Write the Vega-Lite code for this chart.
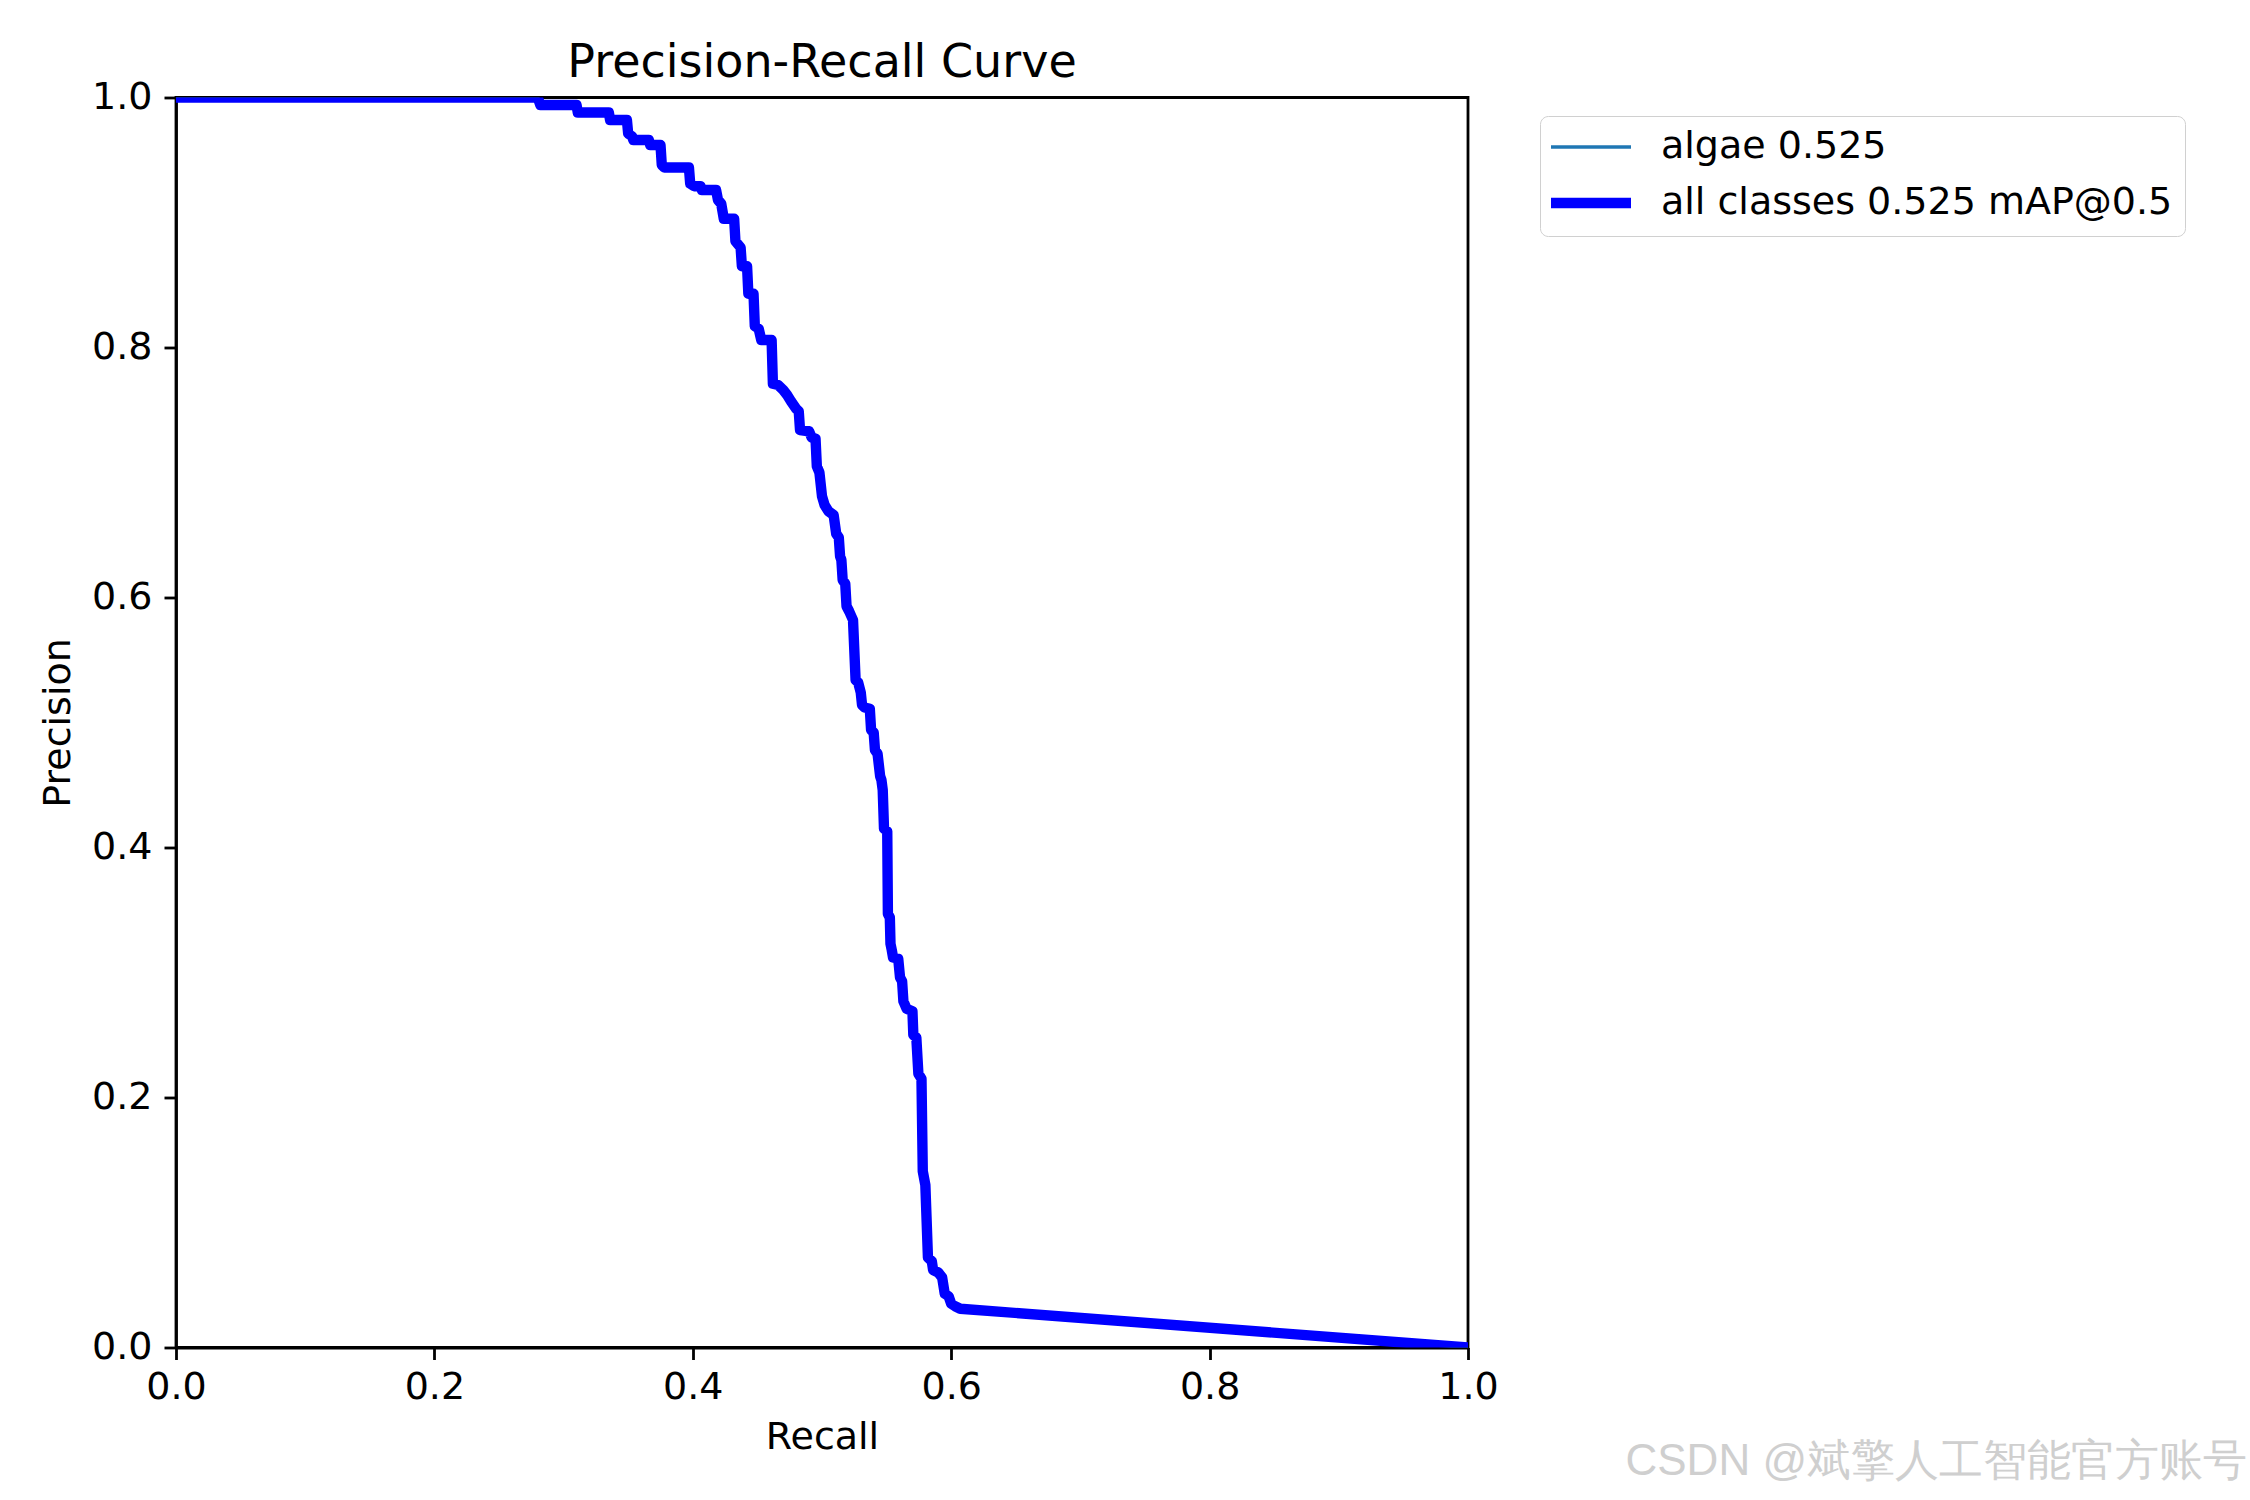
{
  "$schema": "https://vega.github.io/schema/vega-lite/v6.json",
  "description": "Precision-Recall curve, algae class and all classes.",
  "autosize": {"type": "none"},
  "width": 1292,
  "height": 1250,
  "padding": {"left": 176, "top": 97.5, "right": 782, "bottom": 152.5},
  "background": "white",
  "title": {
    "text": "Precision-Recall Curve",
    "font": "DejaVu Sans",
    "fontSize": 46,
    "fontWeight": "normal",
    "color": "black",
    "anchor": "middle",
    "baseline": "alphabetic",
    "offset": -44
  },
  "config": {
    "view": {"stroke": "black", "strokeWidth": 2.8},
    "axis": {
      "grid": false,
      "labelFlush": false,
      "domainColor": "black",
      "domainWidth": 2.8,
      "tickColor": "black",
      "tickWidth": 2.8,
      "tickSize": 12,
      "labelPadding": 12,
      "labelFont": "DejaVu Sans",
      "labelFontSize": 38,
      "labelColor": "black",
      "titleFont": "DejaVu Sans",
      "titleFontSize": 38,
      "titleFontWeight": "normal",
      "titleColor": "black"
    }
  },
  "layer": [
    {
      "data": {"name": "curve"},
      "mark": {"type": "line", "clip": true, "strokeJoin": "round", "strokeWidth": 3.5},
      "encoding": {
        "x": {
          "field": "r",
          "type": "quantitative",
          "title": "Recall",
          "scale": {"domain": [0, 1], "nice": false},
          "axis": {"values": [0, 0.2, 0.4, 0.6, 0.8, 1.0], "format": ".1f", "labelPadding": 9, "titlePadding": 12}
        },
        "y": {
          "field": "p",
          "type": "quantitative",
          "title": "Precision",
          "scale": {"domain": [0, 1], "nice": false},
          "axis": {"values": [0, 0.2, 0.4, 0.6, 0.8, 1.0], "format": ".1f", "titlePadding": 14}
        },
        "order": {"field": "i", "type": "quantitative"},
        "color": {
          "datum": "algae 0.525",
          "type": "nominal",
          "scale": {
            "domain": ["algae 0.525", "all classes 0.525 mAP@0.5"],
            "range": ["#1f77b4", "#0000ff"]
          },
          "legend": {
            "title": null,
            "orient": "none",
            "legendX": 1364,
            "legendY": 18.5,
            "symbolType": "M-1,0H3",
            "symbolSize": 1600,
            "labelOffset": 71,
            "labelLimit": 0,
            "labelFont": "DejaVu Sans",
            "labelFontSize": 38,
            "labelColor": "black",
            "rowPadding": 16,
            "padding": 12,
            "strokeColor": "#d0d0d0",
            "fillColor": "white",
            "cornerRadius": 8,
            "encode": {
              "symbols": {
                "update": {
                  "strokeWidth": {"signal": "datum.label === 'algae 0.525' ? 3.5 : 10.4"}
                }
              }
            }
          }
        }
      }
    },
    {
      "data": {"name": "curve"},
      "mark": {"type": "line", "clip": true, "strokeJoin": "round", "strokeWidth": 10.4},
      "encoding": {
        "x": {"field": "r", "type": "quantitative"},
        "y": {"field": "p", "type": "quantitative"},
        "order": {"field": "i", "type": "quantitative"},
        "color": {"datum": "all classes 0.525 mAP@0.5", "type": "nominal"}
      }
    },
    {
      "data": {"name": "watermark"},
      "mark": {
        "type": "text",
        "align": "right",
        "baseline": "middle",
        "font": "Liberation Sans",
        "fontSize": 44,
        "color": "#cfcfcf"
      },
      "encoding": {
        "x": {"field": "r", "type": "quantitative"},
        "y": {"field": "p", "type": "quantitative"},
        "text": {"field": "note", "type": "nominal"}
      }
    }
  ],
  "datasets": {
    "watermark": [
      {"note": "CSDN @斌擎人工智能官方账号", "r": 1.603, "p": -0.0916}
    ],
    "curve": [
      {"i": 0, "r": 0.0, "p": 1.0},
      {"i": 1, "r": 0.280, "p": 1.0},
      {"i": 2, "r": 0.282, "p": 0.994},
      {"i": 3, "r": 0.310, "p": 0.994},
      {"i": 4, "r": 0.311, "p": 0.988},
      {"i": 5, "r": 0.335, "p": 0.988},
      {"i": 6, "r": 0.336, "p": 0.982},
      {"i": 7, "r": 0.349, "p": 0.982},
      {"i": 8, "r": 0.350, "p": 0.971},
      {"i": 9, "r": 0.353, "p": 0.969},
      {"i": 10, "r": 0.354, "p": 0.966},
      {"i": 11, "r": 0.366, "p": 0.966},
      {"i": 12, "r": 0.367, "p": 0.962},
      {"i": 13, "r": 0.375, "p": 0.962},
      {"i": 14, "r": 0.376, "p": 0.946},
      {"i": 15, "r": 0.378, "p": 0.944},
      {"i": 16, "r": 0.397, "p": 0.944},
      {"i": 17, "r": 0.398, "p": 0.931},
      {"i": 18, "r": 0.401, "p": 0.929},
      {"i": 19, "r": 0.406, "p": 0.929},
      {"i": 20, "r": 0.407, "p": 0.926},
      {"i": 21, "r": 0.418, "p": 0.926},
      {"i": 22, "r": 0.4195, "p": 0.918},
      {"i": 23, "r": 0.422, "p": 0.915},
      {"i": 24, "r": 0.424, "p": 0.903},
      {"i": 25, "r": 0.432, "p": 0.903},
      {"i": 26, "r": 0.433, "p": 0.885},
      {"i": 27, "r": 0.437, "p": 0.880},
      {"i": 28, "r": 0.438, "p": 0.865},
      {"i": 29, "r": 0.442, "p": 0.865},
      {"i": 30, "r": 0.443, "p": 0.843},
      {"i": 31, "r": 0.447, "p": 0.843},
      {"i": 32, "r": 0.448, "p": 0.817},
      {"i": 33, "r": 0.451, "p": 0.815},
      {"i": 34, "r": 0.453, "p": 0.806},
      {"i": 35, "r": 0.461, "p": 0.806},
      {"i": 36, "r": 0.462, "p": 0.771},
      {"i": 37, "r": 0.466, "p": 0.770},
      {"i": 38, "r": 0.470, "p": 0.766},
      {"i": 39, "r": 0.473, "p": 0.762},
      {"i": 40, "r": 0.476, "p": 0.757},
      {"i": 41, "r": 0.480, "p": 0.751},
      {"i": 42, "r": 0.482, "p": 0.749},
      {"i": 43, "r": 0.483, "p": 0.734},
      {"i": 44, "r": 0.490, "p": 0.733},
      {"i": 45, "r": 0.492, "p": 0.728},
      {"i": 46, "r": 0.495, "p": 0.727},
      {"i": 47, "r": 0.496, "p": 0.705},
      {"i": 48, "r": 0.498, "p": 0.700},
      {"i": 49, "r": 0.500, "p": 0.681},
      {"i": 50, "r": 0.502, "p": 0.674},
      {"i": 51, "r": 0.505, "p": 0.669},
      {"i": 52, "r": 0.509, "p": 0.666},
      {"i": 53, "r": 0.511, "p": 0.651},
      {"i": 54, "r": 0.513, "p": 0.648},
      {"i": 55, "r": 0.514, "p": 0.633},
      {"i": 56, "r": 0.515, "p": 0.630},
      {"i": 57, "r": 0.516, "p": 0.614},
      {"i": 58, "r": 0.518, "p": 0.611},
      {"i": 59, "r": 0.519, "p": 0.593},
      {"i": 60, "r": 0.521, "p": 0.589},
      {"i": 61, "r": 0.524, "p": 0.582},
      {"i": 62, "r": 0.526, "p": 0.534},
      {"i": 63, "r": 0.528, "p": 0.532},
      {"i": 64, "r": 0.530, "p": 0.524},
      {"i": 65, "r": 0.531, "p": 0.514},
      {"i": 66, "r": 0.533, "p": 0.512},
      {"i": 67, "r": 0.537, "p": 0.511},
      {"i": 68, "r": 0.538, "p": 0.494},
      {"i": 69, "r": 0.540, "p": 0.492},
      {"i": 70, "r": 0.541, "p": 0.478},
      {"i": 71, "r": 0.543, "p": 0.475},
      {"i": 72, "r": 0.545, "p": 0.457},
      {"i": 73, "r": 0.546, "p": 0.454},
      {"i": 74, "r": 0.547, "p": 0.446},
      {"i": 75, "r": 0.548, "p": 0.415},
      {"i": 76, "r": 0.5505, "p": 0.413},
      {"i": 77, "r": 0.551, "p": 0.347},
      {"i": 78, "r": 0.5525, "p": 0.344},
      {"i": 79, "r": 0.553, "p": 0.323},
      {"i": 80, "r": 0.554, "p": 0.318},
      {"i": 81, "r": 0.555, "p": 0.312},
      {"i": 82, "r": 0.559, "p": 0.311},
      {"i": 83, "r": 0.5604, "p": 0.296},
      {"i": 84, "r": 0.562, "p": 0.293},
      {"i": 85, "r": 0.563, "p": 0.277},
      {"i": 86, "r": 0.5655, "p": 0.271},
      {"i": 87, "r": 0.570, "p": 0.269},
      {"i": 88, "r": 0.5707, "p": 0.250},
      {"i": 89, "r": 0.573, "p": 0.248},
      {"i": 90, "r": 0.5746, "p": 0.219},
      {"i": 91, "r": 0.577, "p": 0.215},
      {"i": 92, "r": 0.578, "p": 0.141},
      {"i": 93, "r": 0.580, "p": 0.130},
      {"i": 94, "r": 0.582, "p": 0.072},
      {"i": 95, "r": 0.585, "p": 0.069},
      {"i": 96, "r": 0.586, "p": 0.062},
      {"i": 97, "r": 0.590, "p": 0.060},
      {"i": 98, "r": 0.593, "p": 0.056},
      {"i": 99, "r": 0.595, "p": 0.043},
      {"i": 100, "r": 0.598, "p": 0.041},
      {"i": 101, "r": 0.600, "p": 0.035},
      {"i": 102, "r": 0.603, "p": 0.033},
      {"i": 103, "r": 0.607, "p": 0.031},
      {"i": 104, "r": 1.0, "p": 0.0}
    ]
  }
}
